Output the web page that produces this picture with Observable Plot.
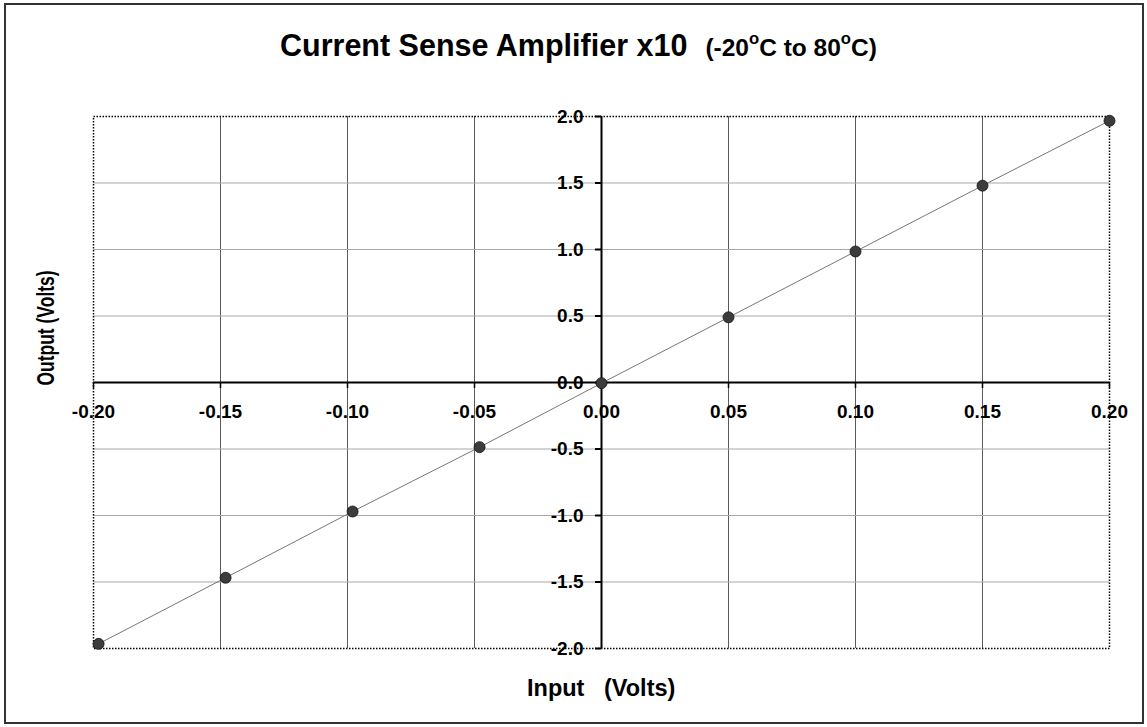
<!DOCTYPE html>
<html>
<head>
<meta charset="utf-8">
<script src="https://cdn.jsdelivr.net/npm/d3@7"></script>
<script src="https://cdn.jsdelivr.net/npm/@observablehq/plot@0.6"></script>
<style>
  html, body { margin: 0; padding: 0; background: #fff; }
  #wrap { position: relative; width: 1147px; height: 727px; overflow: hidden; font-family: "Liberation Sans", Arial, Helvetica, sans-serif; font-weight: bold; color: #000; }
  #border { position: absolute; left: 4px; top: 3px; width: 1140px; height: 721px; border: 2px solid #333; box-sizing: border-box; }
  #chart { position: absolute; left: 0; top: 0; }
  .lbl { position: absolute; white-space: pre; line-height: 1; }
  sup { font-size: 0.68em; vertical-align: 0.7em; line-height: 0; }
</style>
</head>
<body>
<div id="wrap">
  <div id="border"></div>
  <div id="chart"></div>
  <div class="lbl" id="title" style="left:280px; top:30px;"><span style="font-size:30.5px">Current Sense Amplifier x10</span><span style="font-size:24.5px; margin-left:18px">(-20<sup>o</sup>C to 80<sup>o</sup>C)</span></div>
  <div class="lbl" id="xlabel" style="left:527px; top:677px; font-size:23.5px;">Input   (Volts)</div>
  <div class="lbl" id="ylabel" style="left:46px; top:328px; font-size:23px; transform: translate(-50%,-50%) rotate(-90deg) scale(0.76, 1); transform-origin: center;">Output (Volts)</div>
</div>
<script>
// ---- data ----
const inputVolts  = [-0.198, -0.148, -0.098, -0.048, 0.000, 0.050, 0.100, 0.150, 0.200];
const outputVolts = [-1.965, -1.468, -0.970, -0.486, -0.005, 0.490, 0.985, 1.480, 1.968];

const xTicks = [-0.20, -0.15, -0.10, -0.05, 0.00, 0.05, 0.10, 0.15, 0.20];
const xTickLabels = ["-0.20", "-0.15", "-0.10", "-0.05", "0.00", "0.05", "0.10", "0.15", "0.20"];
const yTicks = [-2.0, -1.5, -1.0, -0.5, 0.0, 0.5, 1.0, 1.5, 2.0];
const yTickLabels = ["-2.0", "-1.5", "-1.0", "-0.5", "0.0", "0.5", "1.0", "1.5", "2.0"];

const points = inputVolts.map((x, i) => ({x, y: outputVolts[i]}));
const xGrid = xTicks.filter(t => Math.abs(t) > 1e-9 && Math.abs(Math.abs(t) - 0.2) > 1e-9);
const yGrid = yTicks.filter(t => Math.abs(t) > 1e-9 && Math.abs(Math.abs(t) - 2.0) > 1e-9);
const xT = xTicks.map((v, i) => ({v, label: xTickLabels[i]}));
const yT = yTicks.map((v, i) => ({v, label: yTickLabels[i]}));

const chart = Plot.plot({
  width: 1147,
  height: 727,
  marginLeft: 93,
  marginRight: 38,
  marginTop: 116,
  marginBottom: 79,
  style: { background: "transparent", fontFamily: "Liberation Sans, Arial, sans-serif", overflow: "visible" },
  x: { domain: [-0.2, 0.2], axis: null },
  y: { domain: [-2, 2], axis: null },
  marks: [
    Plot.gridX(xGrid, { stroke: "#5a5a5a", strokeOpacity: 1, strokeWidth: 1 }),
    Plot.gridY(yGrid, { stroke: "#a8a8a8", strokeOpacity: 1, strokeWidth: 1 }),
    Plot.frame({ stroke: "#000", strokeWidth: 1.5, strokeDasharray: "1.5,1.5" }),
    Plot.ruleY([0], { stroke: "#000", strokeWidth: 2 }),
    Plot.ruleX([0], { stroke: "#000", strokeWidth: 2 }),
    // tick marks on the centred axes
    Plot.ruleY(yTicks, { y: d => d, x1: 0, x2: 0, insetLeft: -6, stroke: "#000", strokeWidth: 2 }),
    Plot.ruleX(xTicks, { x: d => d, y1: 0, y2: 0, insetBottom: -6, stroke: "#000", strokeWidth: 1.5 }),
    Plot.line(points, { x: "x", y: "y", stroke: "#777", strokeWidth: 1 }),
    Plot.dot(points, { x: "x", y: "y", r: 5.5, fill: "url(#chk)", stroke: "#111", strokeWidth: 0.8 }),
    Plot.text(xT, { x: "v", y: 0, text: "label", dy: 29, fontSize: 19, fontWeight: "bold", fill: "#000" }),
    Plot.text(yT, { x: 0, y: "v", text: "label", dx: -18, textAnchor: "end", fontSize: 19, fontWeight: "bold", fill: "#000" })
  ]
});

// checkered fill pattern for the markers
const ns = "http://www.w3.org/2000/svg";
const defs = document.createElementNS(ns, "defs");
const pat = document.createElementNS(ns, "pattern");
pat.setAttribute("id", "chk");
pat.setAttribute("width", "2");
pat.setAttribute("height", "2");
pat.setAttribute("patternUnits", "userSpaceOnUse");
[["0","0","2","2","#777"],["0","0","1","1","#000"],["1","1","1","1","#000"]].forEach(([x,y,w,h,f]) => {
  const r = document.createElementNS(ns, "rect");
  r.setAttribute("x", x); r.setAttribute("y", y);
  r.setAttribute("width", w); r.setAttribute("height", h);
  r.setAttribute("fill", f);
  pat.appendChild(r);
});
defs.appendChild(pat);
chart.insertBefore(defs, chart.firstChild);

document.getElementById("chart").appendChild(chart);
</script>
</body>
</html>
